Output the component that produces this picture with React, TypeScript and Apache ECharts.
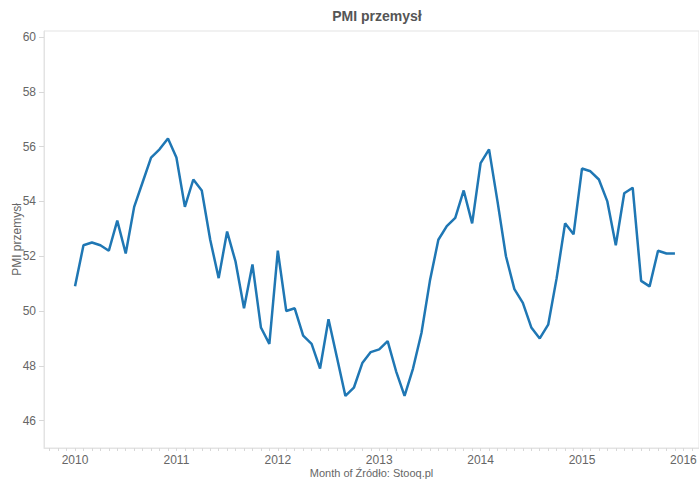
import React, { useEffect, useRef } from "react";
import * as echarts from "echarts";

const months: string[] = [];
for (let y = 2010; y <= 2015; y++) {
  for (let m = 1; m <= 12; m++) months.push(`${y}-${String(m).padStart(2, "0")}`);
}

const pmi2010 = [50.9, 52.4, 52.5, 52.4, 52.2, 53.3, 52.1, 53.8, 54.7, 55.6, 55.9, 56.3];
const pmi2011 = [55.6, 53.8, 54.8, 54.4, 52.6, 51.2, 52.9, 51.8, 50.1, 51.7, 49.4, 48.8];
const pmi2012 = [52.2, 50.0, 50.1, 49.1, 48.8, 47.9, 49.7, 48.3, 46.9, 47.2, 48.1, 48.5];
const pmi2013 = [48.6, 48.9, 47.8, 46.9, 47.9, 49.2, 51.1, 52.6, 53.1, 53.4, 54.4, 53.2];
const pmi2014 = [55.4, 55.9, 54.0, 52.0, 50.8, 50.3, 49.4, 49.0, 49.5, 51.2, 53.2, 52.8];
const pmi2015 = [55.2, 55.1, 54.8, 54.0, 52.4, 54.3, 54.5, 51.1, 50.9, 52.2, 52.1, 52.1];

const yearTicks = [2010, 2011, 2012, 2013, 2014, 2015, 2016];
const yTicks = [46, 48, 50, 52, 54, 56, 58, 60];

const values = [...pmi2010, ...pmi2011, ...pmi2012, ...pmi2013, ...pmi2014, ...pmi2015];

function monthToYear(s: string): number {
  const [y, m] = s.split("-").map(Number);
  return y + (m - 1) / 12;
}

export default function App() {
  const ref = useRef<HTMLDivElement>(null);
  useEffect(() => {
    if (!ref.current) return;
    const chart = echarts.init(ref.current, undefined, { renderer: "svg" });
    const data = months.map((m, i) => [monthToYear(m), values[i]]);
    const monthTicks: number[] = [];
    for (let k = -3; k <= 74; k++) monthTicks.push(2010 + k / 12);
    const font = "'Liberation Sans', Arial, sans-serif";
    chart.setOption({
      animation: false,
      title: {
        text: "PMI przemysł",
        left: 372,
        textAlign: "center",
        top: 4,
        textStyle: { fontFamily: font, fontSize: 14, fontWeight: "bold", color: "#555" },
      },
      grid: {
        left: 44,
        top: 31,
        right: 0,
        bottom: 31,
        containLabel: false,
        outerBoundsMode: "none",
        show: true,
        borderColor: "#e3e3e3",
        borderWidth: 1,
      },
      xAxis: {
        type: "value",
        min: 2009.694,
        max: 2016.154,
        name: "Month of Źródło: Stooq.pl",
        nameLocation: "middle",
        nameGap: 19,
        nameMoveOverlap: false,
        nameTextStyle: { fontFamily: font, fontSize: 11, color: "#666", verticalAlign: "top" },
        axisLine: { show: true, lineStyle: { color: "#e3e3e3" } },
        axisTick: {
          show: true,
          length: 3,
          customValues: monthTicks,
          lineStyle: { color: "#d8d8d8" },
        },
        axisLabel: {
          customValues: yearTicks,
          formatter: (v: number) => String(Math.round(v)),
          fontFamily: font,
          fontSize: 12,
          color: "#666",
          margin: 6,
        },
        splitLine: { show: false },
      },
      yAxis: {
        type: "value",
        min: 45,
        max: 60.22,
        name: "PMI przemysł",
        nameLocation: "middle",
        nameGap: 21,
        nameMoveOverlap: false,
        nameTextStyle: { fontFamily: font, fontSize: 12, color: "#666" },
        axisLine: { show: true, lineStyle: { color: "#e3e3e3" } },
        axisTick: { show: true, length: 5, customValues: yTicks, lineStyle: { color: "#d8d8d8" } },
        axisLabel: {
          customValues: yTicks,
          fontFamily: font,
          fontSize: 12,
          color: "#666",
          margin: 8,
        },
        splitLine: { show: false },
      },
      series: [
        {
          type: "line",
          data,
          showSymbol: false,
          symbol: "none",
          lineStyle: { color: "#1f77b4", width: 2.5 },
          itemStyle: { color: "#1f77b4" },
        },
      ],
    });
    return () => chart.dispose();
  }, []);
  return (
    <div
      ref={ref}
      style={{ position: "fixed", left: 0, top: 0, width: 699, height: 479, background: "#fff" }}
    />
  );
}
